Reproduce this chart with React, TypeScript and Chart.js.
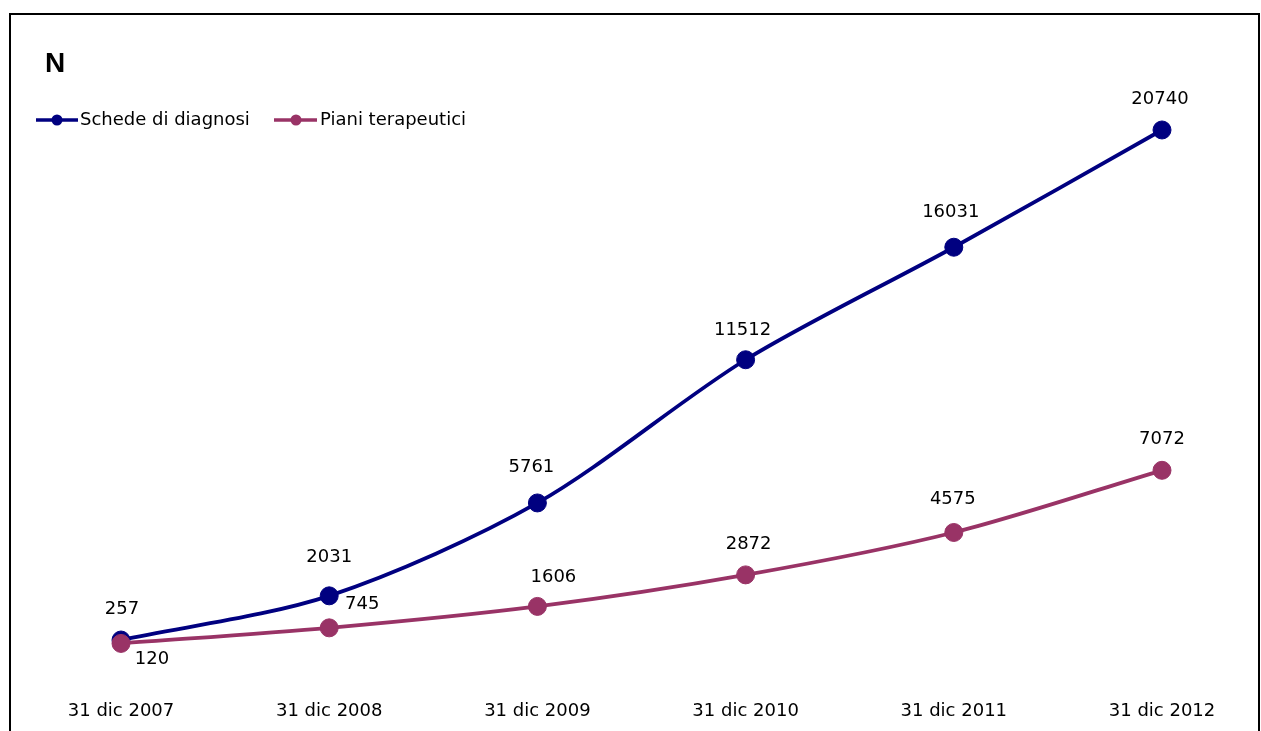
import React, { useEffect, useRef } from "react";
import { Chart, registerables } from "chart.js";

Chart.register(...registerables);

// ---- data ----
const categories = ["31 dic 2007", "31 dic 2008", "31 dic 2009", "31 dic 2010", "31 dic 2011", "31 dic 2012"];
const seriesNames = ["Schede di diagnosi", "Piani terapeutici"];
const schedeDiagnosi = [257, 2031, 5761, 11512, 16031, 20740];
const pianiTerapeutici = [120, 745, 1606, 2872, 4575, 7072];
const yMin = 0;
const yMax = 24000;
const titleText = "N";

// ---- styles ----
const BLUE = "#000080";
const PLUM = "#993366";
const FONT = "'DejaVu Sans', sans-serif";
const schedeLabelOffsets = [[1, -31], [0, -39], [-6, -36], [-3, -29], [-3, -35], [-2, -31]];
const pianiLabelOffsets = [[31, 16], [33, -24], [16, -29], [3, -31], [-1, -33], [0, -31]];

const decorPlugin = {
  id: "decor",
  afterDatasetsDraw(chart: any) {
    const ctx = chart.ctx as CanvasRenderingContext2D;
    ctx.save();
    // data labels
    ctx.font = `18px ${FONT}`;
    ctx.fillStyle = "#000";
    ctx.textAlign = "center";
    ctx.textBaseline = "middle";
    chart.data.datasets.forEach((ds: any, di: number) => {
      const meta = chart.getDatasetMeta(di);
      const offs = di === 0 ? schedeLabelOffsets : pianiLabelOffsets;
      meta.data.forEach((pt: any, i: number) => {
        const o = offs[i] || [0, -31];
        ctx.fillText(String(ds.data[i]), pt.x + o[0], pt.y + o[1]);
      });
    });
    // title
    ctx.font = `bold 28px 'Liberation Sans', Arial, sans-serif`;
    ctx.textAlign = "left";
    ctx.textBaseline = "alphabetic";
    ctx.fillText(titleText, 45, 72);
    // legend
    const items = [
      { name: seriesNames[0], color: BLUE, x0: 36, x1: 78, cx: 57, tx: 80 },
      { name: seriesNames[1], color: PLUM, x0: 274, x1: 317, cx: 296, tx: 320 },
    ];
    const ly = 120;
    items.forEach((it) => {
      ctx.strokeStyle = it.color;
      ctx.lineWidth = 3.5;
      ctx.beginPath();
      ctx.moveTo(it.x0, ly);
      ctx.lineTo(it.x1, ly);
      ctx.stroke();
      ctx.fillStyle = it.color;
      ctx.beginPath();
      ctx.arc(it.cx, ly, 5.5, 0, Math.PI * 2);
      ctx.fill();
      ctx.fillStyle = "#000";
      ctx.font = `18px ${FONT}`;
      ctx.textBaseline = "middle";
      ctx.fillText(it.name, it.tx, ly);
    });
    ctx.restore();
  },
};

export default function App() {
  const ref = useRef<HTMLCanvasElement | null>(null);
  useEffect(() => {
    if (!ref.current) return;
    const chart = new Chart(ref.current, {
      type: "line",
      data: {
        labels: categories,
        datasets: [
          {
            label: seriesNames[0],
            data: schedeDiagnosi,
            borderColor: BLUE,
            backgroundColor: BLUE,
            pointBackgroundColor: BLUE,
            pointBorderColor: BLUE,
            borderWidth: 3.8,
            pointRadius: 9,
            pointBorderWidth: 1,
            tension: 0.3,
            clip: false as any,
            order: 1,
          },
          {
            label: seriesNames[1],
            data: pianiTerapeutici,
            borderColor: PLUM,
            backgroundColor: PLUM,
            pointBackgroundColor: PLUM,
            pointBorderColor: PLUM,
            borderWidth: 3.8,
            pointRadius: 9,
            pointBorderWidth: 1,
            tension: 0.3,
            clip: false as any,
            order: 0,
          },
        ],
      },
      options: {
        responsive: false,
        animation: false,
        layout: { padding: { left: 121, right: 99, top: 48.8, bottom: 0 } },
        plugins: {
          legend: { display: false },
          tooltip: { enabled: false },
          title: { display: false },
        },
        scales: {
          x: {
            offset: false,
            grid: { display: false, drawTicks: false },
            border: { display: false },
            ticks: {
              padding: 54,
              color: "#000",
              font: { family: FONT, size: 18 },
              maxRotation: 0,
              autoSkip: false,
            },
            afterFit: (scale: any) => {
              scale.height = 84.6;
              scale.paddingLeft = 0;
              scale.paddingRight = 0;
            },
          },
          y: {
            display: false,
            min: yMin,
            max: yMax,
          },
        },
      },
      plugins: [decorPlugin],
    });
    return () => chart.destroy();
  }, []);

  return (
    <div style={{ position: "fixed", left: 0, top: 0, width: 1261, height: 731, background: "#fff", overflow: "hidden" }}>
      <div
        style={{
          position: "absolute",
          left: 9,
          top: 13,
          width: 1251,
          height: 740,
          borderTop: "2px solid #000",
          borderLeft: "2px solid #000",
          borderRight: "2px solid #000",
          boxSizing: "border-box",
        }}
      />
      <canvas ref={ref} width={1261} height={731} style={{ position: "absolute", left: 0, top: 0, width: 1261, height: 731 }} />
    </div>
  );
}
